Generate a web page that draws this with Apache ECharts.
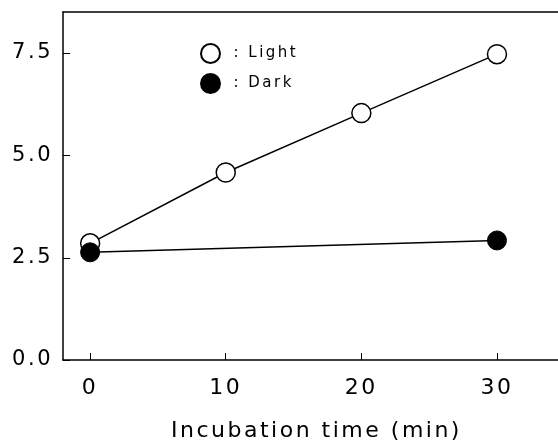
<!DOCTYPE html>
<html><head><meta charset="utf-8">
<script src="https://cdn.jsdelivr.net/npm/echarts@6/dist/echarts.min.js"></script>
<style>html,body{margin:0;padding:0;background:#fff;overflow:hidden}#c{width:558px;height:447px}</style>
</head><body><div id="c"></div>
<script>
const times = [0, 10, 20, 30];
const lightValues = [2.85, 4.58, 6.03, 7.47];
const darkTimes = [0, 30];
const darkValues = [2.63, 2.92];
const xTicks = [0, 10, 20, 30];
const yTicks = [0, 2.5, 5, 7.5];

// wide letter spacing like the reference typeface
const origFill = CanvasRenderingContext2D.prototype.fillText;
CanvasRenderingContext2D.prototype.fillText = function () {
  this.letterSpacing = '2.5px';
  return origFill.apply(this, arguments);
};

const chart = echarts.init(document.getElementById('c'));
const font = 'DejaVu Sans';
const X_MIN = -2, X_MAX = 34.5;
chart.setOption({
  animation: false,
  backgroundColor: '#fff',
  grid: {left: 63, right: 0, top: 12, bottom: 86},
  legend: {
    orient: 'vertical', left: 195, top: 38, itemWidth: 20, itemHeight: 19, itemGap: 9,
    textStyle: {fontFamily: font, fontSize: 15, color: '#000', padding: [0,0,0,8]},
    formatter: n => ': ' + n,
    data: [{name: 'Light', icon: 'circle'}, {name: 'Dark', icon: 'circle'}]
  },
  xAxis: [{
    type: 'value', min: X_MIN, max: X_MAX, interval: 10,
    name: 'Incubation time (min)', nameLocation: 'middle', nameGap: 60,
    nameTextStyle: {fontFamily: font, fontSize: 22, color: '#000', padding: [0,0,0,12]},
    axisLine: {onZero: false, lineStyle: {color: '#000', width: 1.5}},
    axisTick: {inside: true, length: 7, lineStyle: {color: '#000'}, customValues: xTicks},
    axisLabel: {fontFamily: font, fontSize: 22, color: '#000', margin: 17, customValues: xTicks},
    splitLine: {show: false}
  }, {
    type: 'value', position: 'top', min: X_MIN, max: X_MAX,
    axisLine: {show: true, onZero: false, lineStyle: {color: '#000', width: 1.5}},
    axisTick: {show: false}, axisLabel: {show: false}, splitLine: {show: false}
  }],
  yAxis: {
    type: 'value', min: 0, max: 8.5, interval: 2.5,
    axisLine: {show: true, onZero: false, lineStyle: {color: '#000', width: 1.5}},
    axisTick: {show: false},
    axisLabel: {fontFamily: font, fontSize: 21, color: '#000', margin: 10, showMaxLabel: false,
      formatter: v => v.toFixed(1)},
    splitLine: {show: false}
  },
  series: [{
    name: 'Light', type: 'line', data: times.map((t,i)=>[t, lightValues[i]]),
    symbol: 'circle', symbolSize: 19,
    lineStyle: {color: '#000', width: 1.5},
    itemStyle: {color: '#fff', borderColor: '#000', borderWidth: 1.5},
    z: 2
  }, {
    name: 'Dark', type: 'line', data: darkTimes.map((t,i)=>[t, darkValues[i]]),
    symbol: 'circle', symbolSize: 19,
    lineStyle: {color: '#000', width: 1.5},
    itemStyle: {color: '#000', borderColor: '#000', borderWidth: 1},
    z: 3
  }]
});

// inward y-axis ticks placed through the axis scale
const axisX = chart.convertToPixel({xAxisIndex: 0}, X_MIN);
chart.setOption({
  graphic: yTicks.map(v => {
    const py = Math.round(chart.convertToPixel({yAxisIndex: 0}, v)) + 0.5;
    return {type: 'line', silent: true, z: 10,
      shape: {x1: axisX, y1: py, x2: axisX + 7, y2: py},
      style: {stroke: '#000', lineWidth: 1}};
  })
});
</script></body></html>
